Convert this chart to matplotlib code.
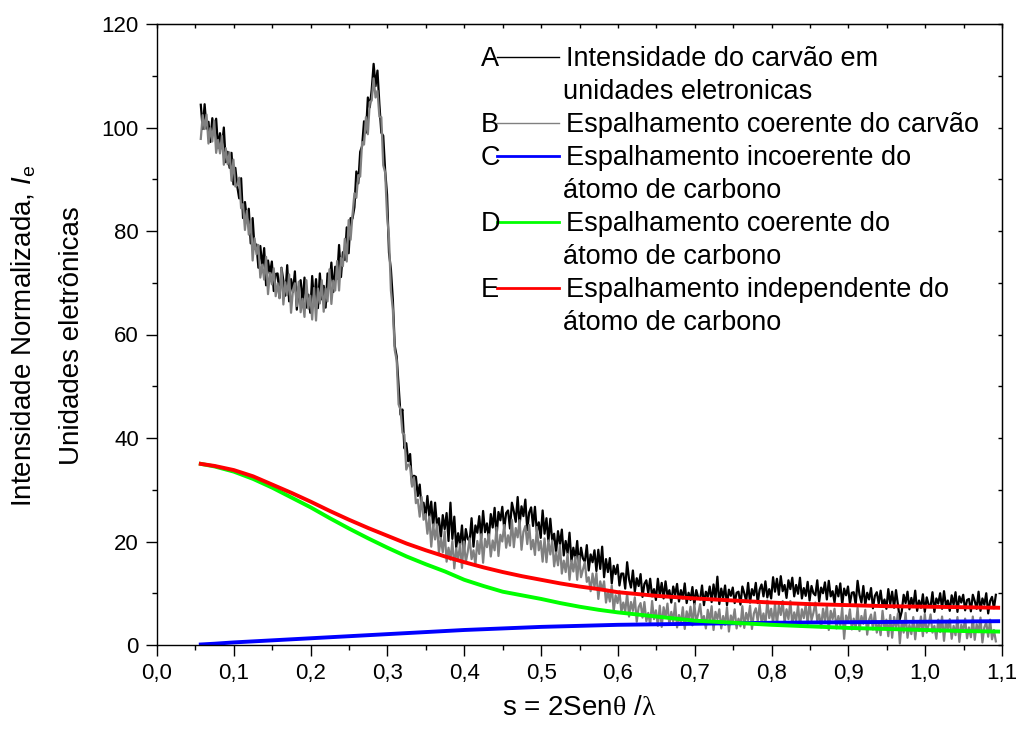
import matplotlib
matplotlib.use("Agg")
import matplotlib.pyplot as plt
from matplotlib.lines import Line2D
from matplotlib.ticker import MultipleLocator, FuncFormatter
import numpy as np

plt.rcParams['font.family'] = ['Liberation Sans', 'DejaVu Sans']
plt.rcParams['mathtext.fontset'] = 'custom'
plt.rcParams['mathtext.rm'] = 'Liberation Serif'
plt.rcParams['mathtext.it'] = 'Liberation Sans:italic'
plt.rcParams['mathtext.sf'] = 'Liberation Sans'

# measured curves, sampled every 0.0025 starting at s = 0.057 (20 points per row = 0.05)
s_start = 0.057
s_step = 0.0025

# A - intensidade do carvao (u.e.)
intens = [
    104.4, 99.7, 104.5, 99.8, 101.1, 97.2, 101.8, 98.9, 101.7, 96.1, 98.9, 96.0, 100.0, 93.3, 95.3, 92.2, 95.1, 89.0, 92.2, 88.6,
    86.3, 90.2, 82.5, 85.6, 82.3, 84.3, 77.6, 82.5, 76.6, 77.4, 72.9, 77.1, 73.0, 76.7, 69.5, 74.3, 71.7, 74.1, 68.4, 71.7,
    71.8, 67.1, 72.9, 70.4, 67.5, 73.4, 66.4, 70.7, 68.2, 72.2, 64.8, 69.2, 70.5, 66.2, 71.0, 65.2, 67.7, 64.2, 71.3, 66.0,
    70.7, 65.1, 71.8, 66.8, 69.4, 65.2, 71.8, 69.2, 73.9, 68.2, 73.1, 70.8, 77.3, 71.1, 75.9, 74.4, 80.7, 75.7, 82.5, 82.4,
    84.6, 91.5, 89.2, 95.3, 96.4, 101.2, 99.0, 105.8, 103.9, 107.3, 112.3, 108.0, 111.0, 104.5, 99.0, 98.4, 91.7, 87.0, 75.8, 72.6,
    66.8, 57.8, 55.8, 50.2, 44.5, 45.5, 38.0, 39.0, 35.5, 36.9, 31.0, 32.7, 32.5, 28.8, 31.0, 26.4, 27.5, 24.7, 28.8, 24.8,
    27.7, 22.8, 27.5, 23.0, 24.5, 20.6, 25.1, 22.4, 25.5, 20.1, 27.5, 20.5, 24.8, 18.8, 21.6, 19.3, 23.1, 18.0, 22.4, 20.5,
    20.1, 24.5, 19.0, 23.1, 21.7, 24.9, 20.6, 25.9, 21.8, 23.5, 20.6, 25.3, 22.7, 26.5, 21.0, 25.7, 24.1, 26.7, 22.4, 25.5,
    26.0, 22.5, 27.5, 25.8, 23.8, 28.6, 23.2, 26.8, 24.9, 28.1, 22.2, 25.6, 26.6, 23.0, 26.7, 21.9, 23.7, 20.7, 26.0, 21.5,
    24.5, 20.0, 24.4, 20.1, 21.5, 17.8, 22.0, 19.4, 22.3, 17.3, 20.1, 17.7, 21.7, 16.2, 18.8, 16.6, 20.1, 15.1, 18.8, 16.7,
    16.1, 19.3, 14.4, 17.5, 16.0, 18.3, 14.3, 18.4, 14.7, 19.0, 13.1, 16.6, 14.1, 16.8, 11.9, 15.3, 13.7, 15.5, 11.5, 13.8,
    13.8, 10.9, 16.0, 12.7, 11.1, 14.4, 10.3, 12.9, 11.4, 13.7, 9.3, 11.8, 12.5, 10.0, 12.8, 9.4, 10.8, 8.7, 12.8, 9.6,
    12.0, 9.0, 12.3, 9.5, 10.6, 8.2, 11.3, 9.7, 11.8, 8.4, 10.6, 9.0, 11.9, 8.1, 10.1, 8.7, 11.2, 7.8, 10.6, 9.2,
    8.8, 11.5, 7.7, 10.3, 9.3, 11.3, 8.3, 11.7, 8.9, 13.2, 7.9, 10.9, 9.1, 11.5, 7.7, 10.7, 9.5, 11.1, 8.1, 10.1,
    10.3, 7.8, 11.3, 10.0, 8.5, 12.0, 8.2, 10.8, 9.6, 12.0, 8.1, 10.7, 11.7, 9.4, 12.3, 9.2, 10.8, 9.0, 13.1, 10.3,
    12.8, 9.7, 13.3, 10.4, 11.6, 9.1, 12.5, 10.8, 13.0, 9.4, 11.6, 9.9, 13.0, 9.0, 11.0, 9.5, 12.2, 8.6, 11.4, 10.0,
    9.6, 12.5, 8.4, 11.1, 10.0, 12.1, 8.8, 12.4, 9.4, 10.4, 8.2, 11.4, 9.4, 11.9, 7.8, 10.9, 9.6, 11.3, 8.0, 10.1,
    10.2, 7.8, 12.4, 9.7, 8.2, 11.4, 7.7, 10.1, 8.8, 11.0, 7.1, 9.5, 10.2, 8.0, 10.5, 7.5, 8.8, 7.0, 10.8, 7.9,
    10.3, 7.2, 10.6, 7.8, 5.0, 6.5, 9.7, 8.1, 10.3, 6.9, 9.1, 7.5, 10.5, 6.6, 8.6, 7.2, 9.8, 6.4, 9.2, 7.8,
    7.4, 10.2, 6.4, 9.0, 8.0, 10.0, 7.0, 10.4, 7.6, 8.6, 6.6, 9.6, 7.8, 10.2, 6.4, 9.4, 8.2, 9.7, 6.7, 8.7,
    8.9, 6.5, 9.7, 8.5, 7.0, 10.3, 6.6, 9.0, 7.8, 10.0, 6.1, 8.5, 9.3, 7.1, 9.7,
]

# B - espalhamento coerente do carvao
coer = [
    97.8, 102.4, 99.7, 102.5, 96.9, 99.9, 97.3, 101.3, 95.1, 97.6, 95.0, 98.4, 92.8, 96.0, 92.9, 95.2, 89.7, 93.8, 88.6, 88.9,
    90.3, 84.4, 85.2, 80.2, 83.9, 79.3, 82.0, 74.3, 78.6, 75.5, 77.3, 71.0, 73.5, 70.6, 75.0, 67.8, 71.9, 69.7, 72.8, 67.4,
    69.9, 67.0, 72.8, 65.8, 70.1, 67.6, 71.6, 64.2, 68.6, 69.9, 65.5, 70.2, 64.3, 66.9, 63.4, 70.5, 65.0, 67.5, 62.9, 69.0,
    62.7, 68.9, 66.0, 70.5, 64.4, 68.9, 66.4, 72.6, 65.9, 70.4, 68.5, 74.2, 68.5, 74.8, 73.2, 78.5, 74.1, 82.1, 78.3, 83.1,
    87.3, 86.4, 90.8, 90.5, 97.2, 96.7, 102.0, 98.7, 104.9, 105.2, 109.5, 105.8, 107.1, 102.1, 102.0, 92.7, 91.3, 82.9, 78.7, 68.5,
    64.8, 57.0, 55.0, 46.5, 45.5, 41.0, 40.7, 33.9, 34.9, 34.5, 30.6, 32.4, 27.4, 28.1, 24.8, 28.6, 24.2, 25.3, 21.5, 24.8,
    19.0, 23.3, 20.4, 23.3, 17.8, 20.7, 17.9, 22.0, 16.1, 18.8, 16.5, 20.1, 14.8, 18.7, 16.4, 19.5, 14.9, 20.0, 16.0, 18.0,
    20.6, 16.6, 18.3, 15.5, 20.1, 17.6, 21.4, 15.9, 20.5, 18.9, 21.4, 17.1, 20.2, 18.3, 22.7, 17.2, 21.3, 20.0, 23.2, 18.8,
    21.2, 19.2, 24.2, 18.9, 22.6, 20.8, 24.1, 18.4, 21.9, 23.0, 19.5, 23.2, 18.5, 20.3, 17.4, 22.8, 18.3, 20.1, 16.1, 20.6,
    16.0, 20.2, 17.5, 20.2, 15.2, 17.9, 15.4, 19.3, 13.8, 16.3, 14.1, 17.6, 12.6, 16.3, 14.2, 17.0, 12.6, 17.2, 13.1, 14.6,
    16.0, 12.2, 13.1, 10.4, 13.8, 11.2, 13.9, 8.9, 12.3, 10.6, 12.3, 8.2, 10.4, 8.4, 11.5, 6.5, 9.6, 8.1, 10.4, 6.4,
    8.2, 6.4, 10.0, 5.5, 8.3, 6.6, 9.2, 4.5, 7.3, 8.1, 5.3, 8.3, 4.6, 6.2, 3.9, 8.5, 5.0, 6.7, 3.7, 7.6,
    3.5, 7.3, 5.3, 8.0, 3.9, 6.4, 4.5, 8.1, 3.4, 5.8, 4.2, 7.3, 3.1, 6.5, 4.8, 7.4, 3.8, 7.9, 4.5, 6.0,
    7.9, 4.5, 5.6, 3.2, 6.8, 4.6, 7.5, 2.9, 6.4, 5.0, 6.9, 3.2, 5.6, 3.9, 7.3, 2.6, 5.7, 4.5, 6.9, 3.2,
    5.1, 3.6, 7.5, 3.3, 6.2, 4.8, 7.6, 3.1, 6.1, 7.1, 4.6, 7.8, 4.3, 6.1, 3.9, 8.6, 5.2, 7.0, 4.1, 8.0,
    3.9, 7.7, 5.8, 8.5, 4.3, 6.9, 5.0, 8.5, 3.9, 6.3, 4.6, 7.7, 3.6, 6.9, 5.2, 7.8, 4.1, 8.2, 4.8, 6.2,
    8.2, 4.7, 5.9, 3.4, 7.0, 4.7, 7.6, 2.9, 6.6, 5.0, 7.0, 3.2, 5.6, 3.8, 7.2, 1.2, 5.7, 4.4, 6.9, 3.0,
    5.1, 3.3, 7.2, 2.7, 5.6, 4.1, 6.8, 2.0, 4.9, 5.9, 3.0, 6.3, 2.4, 4.2, 1.9, 6.6, 3.1, 4.9, 1.7, 5.8,
    1.4, 5.4, 3.4, 6.1, 0.3, 4.6, 2.4, 6.2, 1.4, 3.9, 2.1, 5.4, 1.1, 4.5, 2.7, 5.5, 1.7, 6.0, 2.4, 3.9,
    5.9, 2.4, 3.7, 1.2, 4.9, 2.5, 5.5, 0.8, 4.6, 3.0, 5.0, 1.2, 3.7, 1.9, 5.4, 0.6, 3.9, 2.6, 5.1, 1.3,
    3.4, 1.5, 5.5, 1.0, 4.0, 2.5, 5.3, 0.5, 3.4, 4.4, 1.6, 4.9, 1.1, 2.9, 0.7,
]

# calculated curves for the carbon atom
s_calc = [0.057, 0.075, 0.1, 0.125, 0.15, 0.175, 0.2, 0.225, 0.25, 0.275,
          0.3, 0.325, 0.35, 0.375, 0.4, 0.425, 0.45, 0.475, 0.5, 0.525,
          0.55, 0.575, 0.6, 0.65, 0.7, 0.75, 0.8, 0.85, 0.9, 0.95,
          1.0, 1.05, 1.095]
incoer_c = [0.1, 0.25, 0.5, 0.7, 0.9, 1.1, 1.3, 1.5, 1.7, 1.9,
            2.1, 2.3, 2.5, 2.7, 2.9, 3.05, 3.2, 3.35, 3.5, 3.6,
            3.7, 3.8, 3.9, 4.0, 4.1, 4.2, 4.3, 4.35, 4.4, 4.45,
            4.5, 4.55, 4.6]
coer_c = [35.0, 34.5, 33.5, 32.1, 30.4, 28.5, 26.6, 24.5, 22.5, 20.6,
          18.8, 17.1, 15.6, 14.2, 12.6, 11.4, 10.3, 9.6, 8.9, 8.1,
          7.4, 6.8, 6.3, 5.5, 4.7, 4.3, 3.9, 3.6, 3.3, 3.1,
          2.9, 2.7, 2.6]
indep_c = [35.0, 34.6, 33.8, 32.6, 31.0, 29.4, 27.7, 25.9, 24.2, 22.6,
           21.1, 19.6, 18.3, 17.1, 16.0, 15.0, 14.1, 13.3, 12.6, 11.9,
           11.3, 10.8, 10.2, 9.5, 9.0, 8.6, 8.2, 7.9, 7.7, 7.5,
           7.4, 7.3, 7.2]

s = s_start + s_step * np.arange(len(intens))

W, H = 1016, 735
fig = plt.figure(figsize=(W / 100, H / 100), dpi=100)
ax = fig.add_axes([157 / W, 1 - 645 / H, (1002 - 157) / W, (645 - 24) / H])

ax.plot(s, intens, color='black', lw=1.6)
ax.plot(s, coer, color='#808080', lw=1.6)
ax.plot(s_calc, incoer_c, color='#0000ff', lw=2.8)
ax.plot(s_calc, coer_c, color='#00ff00', lw=2.8)
ax.plot(s_calc, indep_c, color='#ff0000', lw=2.8)

ax.set_xlim(0, 1.1)
ax.set_ylim(0, 120)
ax.xaxis.set_major_locator(MultipleLocator(0.1))
ax.xaxis.set_minor_locator(MultipleLocator(0.05))
ax.yaxis.set_major_locator(MultipleLocator(20))
ax.yaxis.set_minor_locator(MultipleLocator(10))
ax.xaxis.set_major_formatter(FuncFormatter(lambda v, p: f"{v:.1f}".replace('.', ',')))
ax.yaxis.set_major_formatter(FuncFormatter(lambda v, p: f"{v:.0f}"))
ax.tick_params(which='major', direction='out', length=8, width=1, labelsize=16, pad=5)
ax.tick_params(which='minor', direction='out', length=3.5, width=1)
for sp in ax.spines.values():
    sp.set_linewidth(1.0)

# ticks on the top and right frame
top = ax.secondary_xaxis('top')
top.xaxis.set_major_locator(MultipleLocator(0.05))
top.tick_params(direction='in', length=3, width=1, labeltop=False)
right = ax.secondary_yaxis('right')
right.yaxis.set_major_locator(MultipleLocator(10))
right.tick_params(direction='in', length=3, width=1, labelright=False)

ax.set_xlabel(r"s = 2Sen$\mathrm{\theta}$ /$\mathrm{\lambda}$", fontsize=20, labelpad=8)
fig.text(24 / W, 1 - 336 / H, r"Intensidade Normalizada, $\mathit{I}_{\mathsf{e}}$",
         rotation=90, ha='center', va='center', fontsize=20)
fig.text(72 / W, 1 - 336 / H, "Unidades eletrônicas",
         rotation=90, ha='center', va='center', fontsize=20)

# legend: letter, line sample, description
legend_rows = [
    ("A", 'black', 1.0, ["Intensidade do carvão em", "unidades eletronicas"]),
    ("B", '#808080', 1.0, ["Espalhamento coerente do carvão"]),
    ("C", '#0000ff', 2.0, ["Espalhamento incoerente do", "átomo de carbono"]),
    ("D", '#00ff00', 2.0, ["Espalhamento coerente do", "átomo de carbono"]),
    ("E", '#ff0000', 2.0, ["Espalhamento independente do", "átomo de carbono"]),
]
row = 0
for letter, col, lw, lines in legend_rows:
    yc = 57 + 33 * row
    fig.text(481 / W, 1 - (yc + 9) / H, letter, ha='left', va='baseline', fontsize=19.5)
    fig.add_artist(Line2D([497 / W, 559 / W], [1 - yc / H, 1 - yc / H],
                          color=col, lw=lw, transform=fig.transFigure))
    for k, txt in enumerate(lines):
        x0 = 566 if k == 0 else 563
        fig.text(x0 / W, 1 - (yc + 9 + 33 * k) / H, txt, ha='left', va='baseline', fontsize=19.5)
    row += len(lines)

fig.savefig('out.png', dpi=100)
